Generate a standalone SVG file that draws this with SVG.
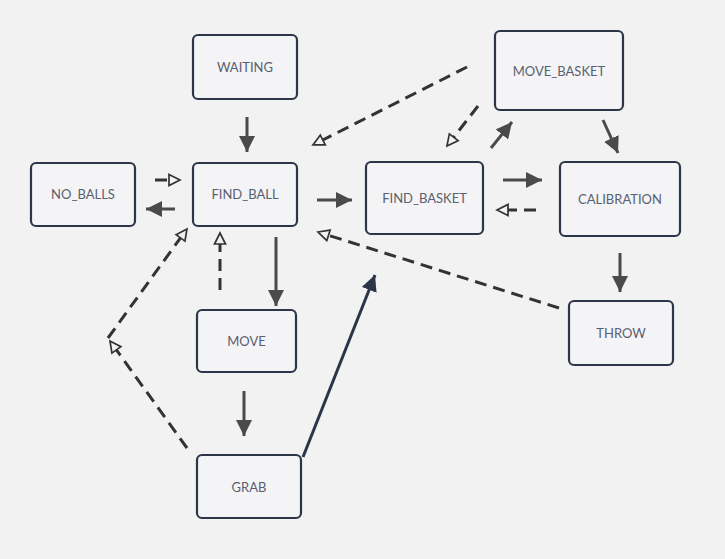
<svg xmlns="http://www.w3.org/2000/svg" width="725" height="559" viewBox="0 0 725 559">
<style>
.node rect{fill:#f4f4f6;stroke:#2d3648;stroke-width:2.2}
.node text{font-family:Lato,"Open Sans",sans-serif;font-size:13px;fill:#5a6070;text-anchor:middle;dominant-baseline:central}
.solid{stroke:#4a4a4a;stroke-width:3;fill:none;marker-end:url(#filled)}
.navy{stroke:#2c3447;stroke-width:3;fill:none;marker-end:url(#filledNavy)}
.dash{stroke:#333;stroke-width:3;fill:none;stroke-dasharray:12 7;marker-end:url(#open)}
</style>
<defs>
<marker id="filled" markerUnits="userSpaceOnUse" markerWidth="16" markerHeight="16" viewBox="0 0 14 14" refX="14" refY="7" orient="auto">
<path d="M0,0 L14,7 L0,14 z" fill="#4a4a4a"/>
</marker>
<marker id="filledNavy" markerUnits="userSpaceOnUse" markerWidth="16" markerHeight="16" viewBox="0 0 14 14" refX="14" refY="7" orient="auto">
<path d="M0,0 L14,7 L0,14 z" fill="#2c3447"/>
</marker>
<marker id="open" markerUnits="userSpaceOnUse" markerWidth="15" markerHeight="15" viewBox="-2 -7.5 15 15" refX="0" refY="0" orient="auto">
<path d="M0,-5.5 L11,0 L0,5.5 z" fill="#f2f2f2" stroke="#333" stroke-width="1.7" stroke-linejoin="miter"/>
</marker>
</defs>
<rect width="725" height="559" fill="#f2f2f2"/>
<g id="connectors">
<line class="solid" x1="247" y1="117" x2="247" y2="152"/>
<line class="solid" x1="175" y1="209" x2="146" y2="209"/>
<line class="solid" x1="317" y1="200" x2="352" y2="200"/>
<line class="solid" x1="503" y1="180" x2="542" y2="180"/>
<line class="solid" x1="491" y1="148" x2="512" y2="122"/>
<line class="solid" x1="603" y1="120" x2="618" y2="153"/>
<line class="solid" x1="620" y1="253" x2="620" y2="292"/>
<line class="solid" x1="276" y1="237" x2="276" y2="306"/>
<line class="solid" x1="244" y1="391" x2="244" y2="436"/>
<line class="navy" x1="303" y1="457" x2="375" y2="275"/>
<line class="dash" x1="155" y1="180" x2="169" y2="180"/>
<line class="dash" x1="220" y1="290" x2="220" y2="244"/>
<line class="dash" x1="536" y1="210" x2="508" y2="210"/>
<line class="dash" x1="478" y1="106" x2="453.7" y2="137.3"/>
<line class="dash" x1="467" y1="67" x2="322.8" y2="140"/>
<line class="dash" x1="559" y1="308" x2="328.5" y2="235.3"/>
<line class="dash" x1="187" y1="448" x2="116.4" y2="349.9"/>
<line class="dash" x1="108" y1="338" x2="180.5" y2="237.9"/>
</g>
<g id="WAITING" class="node"><rect x="193" y="35" width="104" height="64" rx="5"/><text x="245" y="67">WAITING</text></g>
<g id="NO_BALLS" class="node"><rect x="31" y="163" width="104" height="63" rx="5"/><text x="83" y="194">NO_BALLS</text></g>
<g id="FIND_BALL" class="node"><rect x="193" y="163" width="104" height="63" rx="5"/><text x="245" y="194">FIND_BALL</text></g>
<g id="FIND_BASKET" class="node"><rect x="366" y="162" width="117" height="72" rx="5"/><text x="424.5" y="198">FIND_BASKET</text></g>
<g id="MOVE_BASKET" class="node"><rect x="495" y="31" width="128" height="79" rx="5"/><text x="559" y="71">MOVE_BASKET</text></g>
<g id="CALIBRATION" class="node"><rect x="560" y="162" width="120" height="74" rx="5"/><text x="620" y="199">CALIBRATION</text></g>
<g id="THROW" class="node"><rect x="569" y="301" width="104" height="64" rx="5"/><text x="621" y="333">THROW</text></g>
<g id="MOVE" class="node"><rect x="197" y="310" width="99" height="62" rx="5"/><text x="246.5" y="341">MOVE</text></g>
<g id="GRAB" class="node"><rect x="197" y="455" width="104" height="63" rx="5"/><text x="249" y="487">GRAB</text></g>
</svg>
